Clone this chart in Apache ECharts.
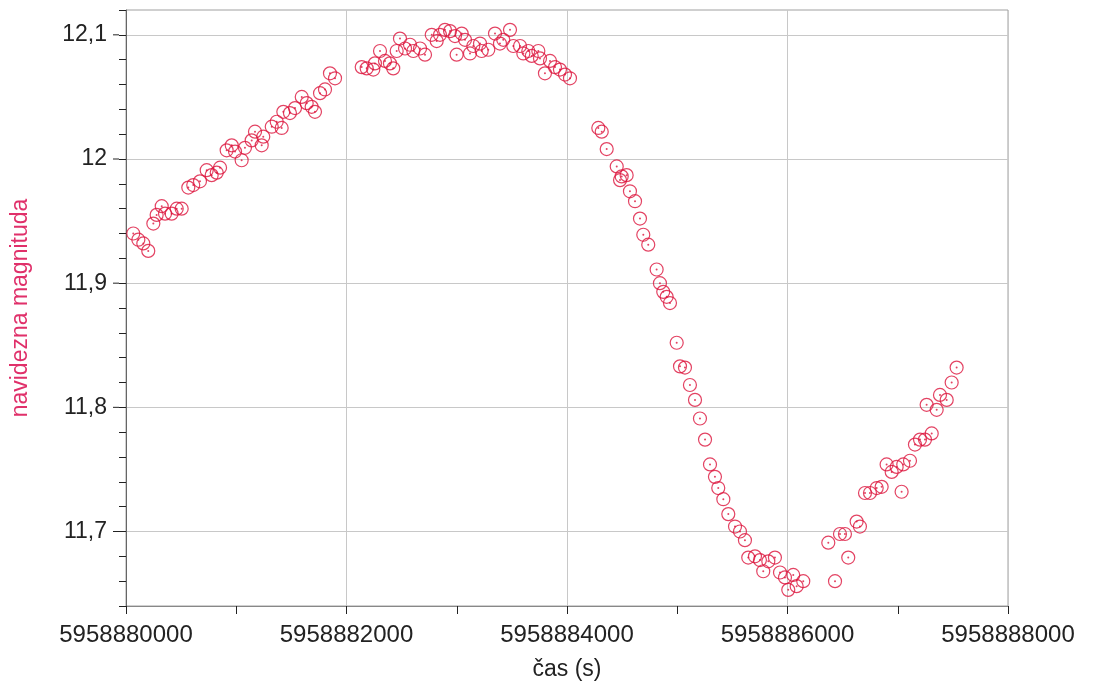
<!DOCTYPE html>
<html>
<head>
<meta charset="utf-8">
<script src="https://cdn.jsdelivr.net/npm/echarts@6/dist/echarts.min.js"></script>
<style>
  html, body { margin: 0; padding: 0; background: #fff; }
  #chart { width: 1094px; height: 689px; }
</style>
</head>
<body>
<div id="chart"></div>
<script>
// time axis: seconds since baseTime
const baseTime = 5958880000;
const timeOffsets = [
    66, 112, 157, 202, 248, 278, 324, 354, 414, 460, 505, 565, 610, 671, 732, 777, 823, 853, 913, 959,
    989, 1049, 1079, 1140, 1170, 1231, 1245, 1322, 1367, 1412, 1427, 1487, 1533, 1594, 1639, 1684, 1714, 1760, 1805, 1850, 1896,
    2138, 2183, 2243, 2258, 2304, 2349, 2394, 2424, 2455, 2485, 2531, 2576, 2606, 2667, 2712, 2773, 2818, 2848, 2893, 2939,
    2984, 2999, 3045, 3075, 3120, 3150, 3211, 3226, 3286, 3347, 3392, 3422, 3483, 3513, 3574, 3604, 3649, 3680, 3740, 3755,
    3800, 3846, 3891, 3936, 3982, 4027,
    4284, 4315, 4360, 4451, 4496, 4541, 4481, 4571, 4617, 4662, 4692, 4737, 4813, 4843, 4873, 4904, 4934, 4995, 5025, 5070,
    5115, 5161, 5206, 5252,
    5297, 5342, 5372, 5418, 5463, 5524, 5569, 5614, 5644, 5705, 5750, 5780, 5826, 5886, 5932, 5977, 6007, 6052, 6083, 6143,
    6370, 6431, 6476, 6521, 6551, 6627, 6657, 6703, 6748, 6809, 6854, 6899, 6945, 6990, 7035, 7050, 7111, 7156, 7202, 7247,
    7308, 7262, 7353, 7383, 7444, 7489, 7534
];
const magnitudes = [
    11.940, 11.935, 11.932, 11.926, 11.948, 11.955, 11.962, 11.956, 11.956, 11.960, 11.960, 11.977, 11.979, 11.982, 11.991, 11.987, 11.989, 11.993, 12.007, 12.011,
    12.006, 11.999, 12.009, 12.015, 12.022, 12.011, 12.018, 12.026, 12.030, 12.025, 12.038, 12.037, 12.041, 12.050, 12.045, 12.042, 12.038, 12.053, 12.056, 12.069, 12.065,
    12.074, 12.073, 12.072, 12.077, 12.087, 12.079, 12.077, 12.073, 12.087, 12.097, 12.089, 12.092, 12.087, 12.089, 12.084, 12.100, 12.095, 12.100, 12.104, 12.103,
    12.099, 12.084, 12.101, 12.096, 12.085, 12.091, 12.093, 12.087, 12.088, 12.101, 12.093, 12.096, 12.104, 12.091, 12.091, 12.085, 12.087, 12.083, 12.087, 12.081,
    12.069, 12.079, 12.074, 12.072, 12.068, 12.065,
    12.025, 12.022, 12.008, 11.994, 11.986, 11.987, 11.983, 11.974, 11.966, 11.952, 11.939, 11.931, 11.911, 11.900, 11.893, 11.889, 11.884, 11.852, 11.833, 11.832,
    11.818, 11.806, 11.791, 11.774,
    11.754, 11.744, 11.735, 11.726, 11.714, 11.704, 11.700, 11.693, 11.679, 11.680, 11.677, 11.668, 11.676, 11.679, 11.667, 11.663, 11.653, 11.665, 11.656, 11.660,
    11.691, 11.660, 11.698, 11.698, 11.679, 11.708, 11.704, 11.731, 11.731, 11.735, 11.736, 11.754, 11.748, 11.752, 11.732, 11.754, 11.757, 11.770, 11.774, 11.774,
    11.779, 11.802, 11.798, 11.810, 11.806, 11.820, 11.832
];

const xName = 'čas (s)';
const yName = 'navidezna magnituda';
const markColor = '#dc143c';
const font = 'Liberation Sans, Arial, sans-serif';

const points = timeOffsets.map((dt, i) => [baseTime + dt, magnitudes[i]]);

const chart = echarts.init(document.getElementById('chart'), null, { renderer: 'canvas' });

const option = {
    animation: false,
    backgroundColor: '#fff',
    grid: {
        left: 126,
        right: 86,
        top: 10,
        bottom: 83,
        show: true,
        borderColor: '#a0a0a0',
        borderWidth: 1
    },
    xAxis: {
        type: 'value',
        min: 5958880000,
        max: 5958888000,
        interval: 1000,
        name: xName,
        nameLocation: 'middle',
        nameGap: 52,
        nameTextStyle: { fontFamily: font, fontSize: 23, color: '#222' },
        axisLine: { onZero: false, lineStyle: { color: '#888', width: 1 } },
        axisTick: { length: 8, lineStyle: { color: '#222' } },
        axisLabel: {
            margin: 17,
            fontFamily: font,
            fontSize: 24,
            color: '#222',
            formatter: v => (Math.round(v) % 2000 === 0 ? String(Math.round(v)) : '')
        },
        splitLine: {
            show: true,
            lineStyle: { color: ['#c8c8c8', 'rgba(0,0,0,0)'], width: 1 }
        }
    },
    yAxis: {
        type: 'value',
        min: 11.64,
        max: 12.12,
        interval: 0.02,
        name: yName,
        nameLocation: 'middle',
        nameGap: 94,
        nameTextStyle: { fontFamily: font, fontSize: 23, color: '#e0306a' },
        axisLine: { onZero: false, lineStyle: { color: '#666', width: 1 } },
        axisTick: { length: 7, lineStyle: { color: '#222' } },
        axisLabel: {
            margin: 7,
            fontFamily: font,
            fontSize: 23,
            color: '#222',
            formatter: v => {
                const k = Math.round(v * 100);
                if (k % 10 !== 0) return '';
                return '{l|' + String(k / 100).replace('.', ',') + '}{d|}';
            },
            rich: {
                l: { fontFamily: font, fontSize: 23, color: '#222', padding: [0, 6, 0, 0] },
                d: { width: 6, height: 1, backgroundColor: '#222' }
            }
        },
        splitLine: {
            show: true,
            lineStyle: {
                color: ['rgba(0,0,0,0)', 'rgba(0,0,0,0)', 'rgba(0,0,0,0)', '#c8c8c8', 'rgba(0,0,0,0)'],
                width: 1
            }
        }
    },
    series: [
        {
            type: 'scatter',
            data: points,
            symbol: 'circle',
            symbolSize: 13,
            itemStyle: { color: 'rgba(0,0,0,0)', borderColor: markColor, borderWidth: 1.2 },
            emphasis: { disabled: true }
        },
        {
            type: 'scatter',
            data: points,
            symbol: 'circle',
            symbolSize: 2,
            itemStyle: { color: markColor },
            emphasis: { disabled: true }
        }
    ]
};

chart.setOption(option);
</script>
</body>
</html>
